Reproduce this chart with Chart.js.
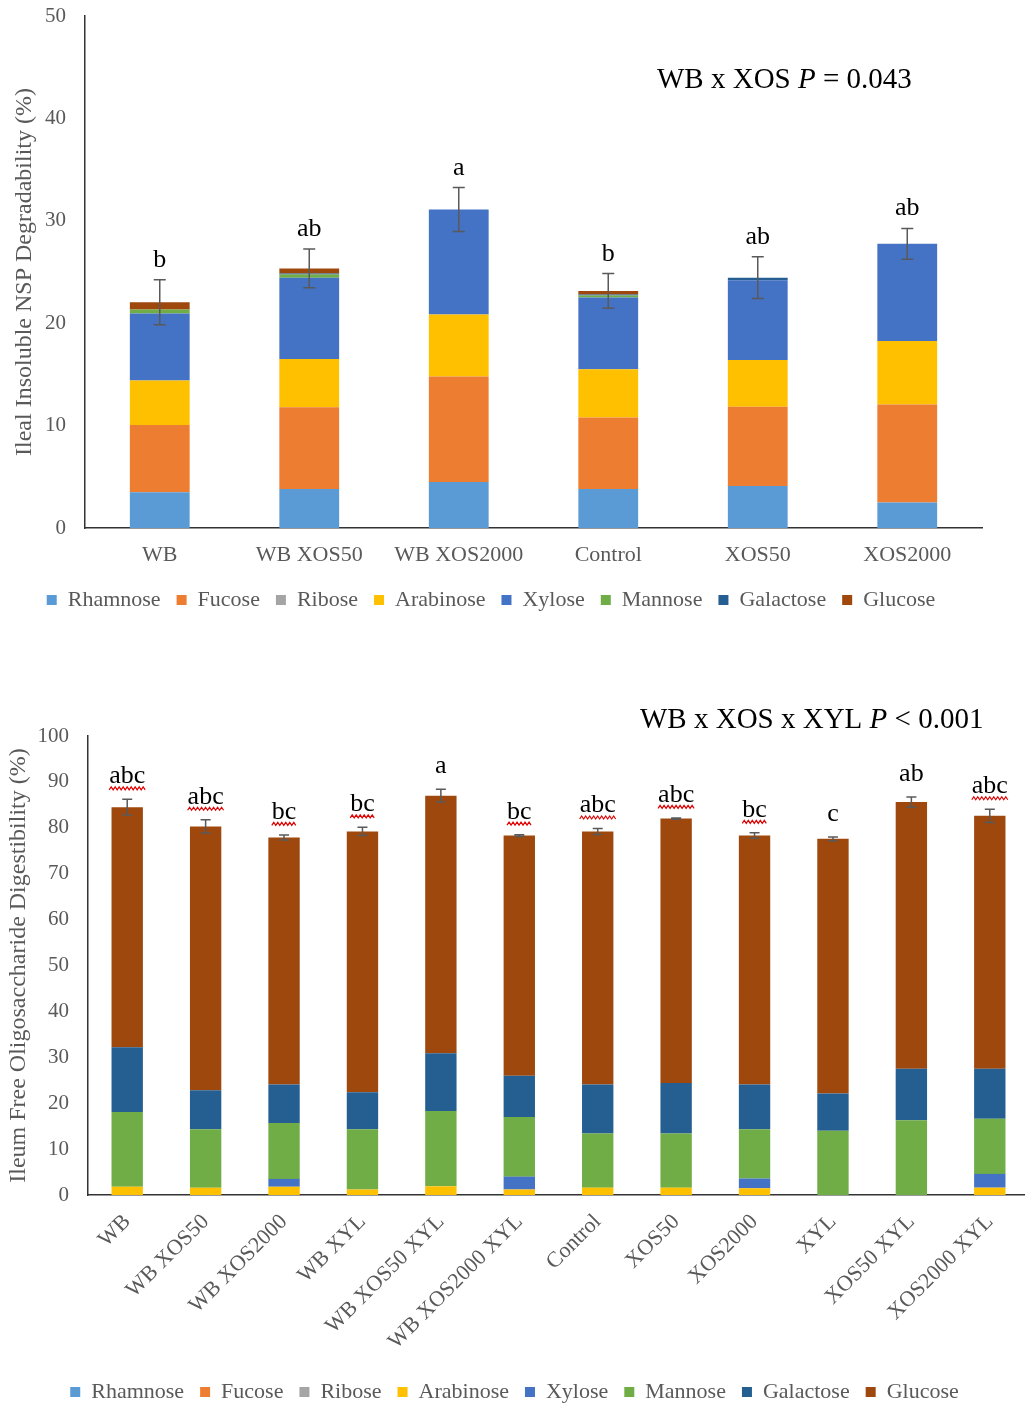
<!DOCTYPE html>
<html>
<head>
<meta charset="utf-8">
<script src="https://cdn.jsdelivr.net/npm/chart.js@4.4.0/dist/chart.umd.min.js"></script>
<style>
  html, body { margin: 0; background: #fff; overflow: hidden; }
  body { width: 1025px; height: 1404px; position: relative; }
  .box { position: absolute; left: 0; }
  #top { top: 0; width: 1025px; height: 624px; }
  #bottom { top: 690px; width: 1030px; height: 725px; }
</style>
</head>
<body>
<div class="box" id="top"><canvas id="nsp"></canvas></div>
<div class="box" id="bottom"><canvas id="fos"></canvas></div>
<script>
// sugars and their colours (Office palette)
const sugars = ['Rhamnose', 'Fucose', 'Ribose', 'Arabinose', 'Xylose', 'Mannose', 'Galactose', 'Glucose'];
const sugarColors = ['#5B9BD5', '#ED7D31', '#A5A5A5', '#FFC000', '#4472C4', '#70AD47', '#255E91', '#9E480E'];

// top chart: ileal insoluble NSP degradability
const nspGroups = ['WB', 'WB XOS50', 'WB XOS2000', 'Control', 'XOS50', 'XOS2000'];
const nspRhamnose  = [3.5, 3.8, 4.5, 3.8, 4.1, 2.5];
const nspFucose    = [6.55, 8.0, 10.3, 7.0, 7.75, 9.55];
const nspRibose    = [0, 0, 0, 0, 0, 0];
const nspArabinose = [4.35, 4.7, 6.05, 4.7, 4.55, 6.2];
const nspXylose    = [6.55, 7.95, 10.25, 7.0, 7.8, 9.5];
const nspMannose   = [0.4, 0.3, 0, 0.2, 0, 0];
const nspGalactose = [0, 0.1, 0, 0.1, 0.25, 0];
const nspGlucose   = [0.7, 0.5, 0, 0.35, 0, 0];
const nspErrors    = [2.2, 1.9, 2.15, 1.7, 2.05, 1.5];
const nspLetters   = ['b', 'ab', 'a', 'b', 'ab', 'ab'];
const nspTitle     = [['WB x XOS ', false], ['P', true], [' = 0.043', false]];

// bottom chart: ileum free oligosaccharide digestibility
const fosGroups = ['WB', 'WB XOS50', 'WB XOS2000', 'WB XYL', 'WB XOS50 XYL', 'WB XOS2000 XYL',
                   'Control', 'XOS50', 'XOS2000', 'XYL', 'XOS50 XYL', 'XOS2000 XYL'];
const fosRhamnose  = [0, 0, 0, 0, 0, 0, 0, 0, 0, 0, 0, 0];
const fosFucose    = [0, 0, 0, 0, 0, 0, 0, 0, 0, 0, 0, 0];
const fosRibose    = [0, 0, 0, 0, 0, 0, 0, 0, 0, 0, 0, 0];
const fosArabinose = [1.8, 1.6, 1.8, 1.2, 1.9, 1.2, 1.6, 1.6, 1.45, 0, 0, 1.6];
const fosXylose    = [0, 0, 1.7, 0, 0, 2.8, 0, 0, 2.15, 0, 0, 3.0];
const fosMannose   = [16.3, 12.7, 12.2, 13.1, 16.4, 13.0, 11.8, 11.8, 10.7, 14.0, 16.3, 12.0];
const fosGalactose = [14.1, 8.5, 8.4, 8.1, 12.6, 9.0, 10.7, 11.0, 9.8, 8.1, 11.2, 10.9];
const fosGlucose   = [52.3, 57.5, 53.8, 56.8, 56.1, 52.3, 55.1, 57.6, 54.2, 55.5, 58.1, 55.1];
const fosErrors    = [1.7, 1.45, 0.55, 0.9, 1.4, 0.2, 0.65, 0.15, 0.6, 0.4, 1.1, 1.45];
const fosLetters   = ['abc', 'abc', 'bc', 'bc', 'a', 'bc', 'abc', 'abc', 'bc', 'c', 'ab', 'abc'];
const fosSquiggle  = [true, true, true, true, false, true, true, true, true, false, false, true];
const fosTitle     = [['WB x XOS x XYL ', false], ['P', true], [' < 0.001', false]];

const serif = "'Liberation Serif', 'Times New Roman', serif";
Chart.defaults.font.family = serif;
Chart.defaults.color = '#595959';

function makeDatasets(series) {
  return series.map((vals, i) => ({
    label: sugars[i],
    data: vals,
    backgroundColor: sugarColors[i],
    borderWidth: 0,
    categoryPercentage: 1,
    barPercentage: 0.4
  }));
}

function totalsOf(series) {
  return series[0].map((_, i) => series.reduce((s, arr) => s + arr[i], 0));
}

// error bars, significance letters and the interaction note
const annotate = {
  id: 'annotate',
  afterDatasetsDraw(chart, args, o) {
    const ctx = chart.ctx;
    const xs = chart.scales.x, ys = chart.scales.y;
    ctx.save();
    o.totals.forEach((t, i) => {
      const px = xs.getPixelForValue(i);
      const hi = ys.getPixelForValue(t + o.errors[i]);
      const lo = ys.getPixelForValue(t - o.errors[i]);
      ctx.strokeStyle = '#595959';
      ctx.lineWidth = 1.5;
      ctx.beginPath();
      ctx.moveTo(px, hi); ctx.lineTo(px, lo);
      ctx.moveTo(px - o.cap, hi); ctx.lineTo(px + o.cap, hi);
      ctx.moveTo(px - o.cap, lo); ctx.lineTo(px + o.cap, lo);
      ctx.stroke();

      ctx.font = '26px ' + serif;
      ctx.fillStyle = '#000';
      ctx.textAlign = 'center';
      ctx.textBaseline = 'alphabetic';
      const base = hi - o.gap;
      ctx.fillText(o.letters[i], px, base);
      if (o.squiggle && o.squiggle[i]) {
        const w = ctx.measureText(o.letters[i]).width;
        ctx.strokeStyle = '#e00000';
        ctx.lineWidth = 1.2;
        ctx.beginPath();
        let k = 0;
        for (let sx = px - w / 2; sx <= px + w / 2; sx += 2) {
          const sy = base + 5 + (k % 2 ? -1.5 : 1.5);
          if (k === 0) ctx.moveTo(sx, sy); else ctx.lineTo(sx, sy);
          k++;
        }
        ctx.stroke();
      }
    });

    // interaction note
    let tx = o.noteX;
    ctx.textAlign = 'left';
    ctx.textBaseline = 'middle';
    ctx.fillStyle = '#000';
    o.note.forEach(([txt, italic]) => {
      ctx.font = (italic ? 'italic ' : '') + '29px ' + serif;
      ctx.fillText(txt, tx, o.noteY);
      tx += ctx.measureText(txt).width;
    });
    ctx.restore();
  }
};

function options(cfg) {
  return {
    responsive: true,
    maintainAspectRatio: false,
    animation: false,
    layout: { padding: cfg.padding },
    plugins: {
      legend: {
        position: 'bottom',
        labels: {
          boxWidth: 10, boxHeight: 10, padding: 16,
          color: '#595959',
          font: { size: 22, family: serif }
        }
      },
      tooltip: { enabled: false },
      annotate: cfg.annotate
    },
    scales: {
      x: {
        stacked: true,
        grid: { display: false, drawTicks: false },
        border: { display: true, color: '#333', width: 1.5 },
        ticks: {
          autoSkip: false,
          minRotation: cfg.rotation, maxRotation: cfg.rotation,
          padding: cfg.xPad,
          color: '#595959',
          font: { size: 22, family: serif }
        },
        afterFit: s => { s.height = cfg.xHeight; }
      },
      y: {
        stacked: true,
        min: 0, max: cfg.yMax,
        grid: { display: false, drawTicks: false },
        border: { display: true, color: '#333', width: 1.5 },
        ticks: {
          stepSize: cfg.yStep,
          padding: 19,
          color: '#595959',
          font: { size: 21, family: serif }
        },
        title: {
          display: true,
          text: cfg.yTitle,
          color: '#595959',
          padding: { top: cfg.titlePad, bottom: 0 },
          font: { size: 24, family: serif }
        },
        afterFit: s => { s.width = cfg.yWidth; s.paddingTop = 0; }
      }
    }
  };
}

const nspSeries = [nspRhamnose, nspFucose, nspRibose, nspArabinose, nspXylose, nspMannose, nspGalactose, nspGlucose];
new Chart(document.getElementById('nsp'), {
  type: 'bar',
  data: { labels: nspGroups, datasets: makeDatasets(nspSeries) },
  options: options({
    padding: { top: 16, right: 43, bottom: 3, left: 0 },
    rotation: 0, xPad: 14, xHeight: 45,
    yMax: 50, yStep: 10, yWidth: 85, titlePad: 10,
    yTitle: 'Ileal Insoluble NSP Degradability (%)',
    annotate: {
      totals: totalsOf(nspSeries), errors: nspErrors, letters: nspLetters,
      cap: 6, gap: 13, note: nspTitle, noteX: 657, noteY: 80
    }
  }),
  plugins: [annotate]
});

const fosSeries = [fosRhamnose, fosFucose, fosRibose, fosArabinose, fosXylose, fosMannose, fosGalactose, fosGlucose];
new Chart(document.getElementById('fos'), {
  type: 'bar',
  data: { labels: fosGroups, datasets: makeDatasets(fosSeries) },
  options: options({
    padding: { top: 46, right: 1, bottom: 2, left: 0 },
    rotation: 45, xPad: 14, xHeight: 170,
    yMax: 100, yStep: 10, yWidth: 88, titlePad: 4,
    yTitle: 'Ileum Free Oligosaccharide Digestibility (%)',
    annotate: {
      totals: totalsOf(fosSeries), errors: fosErrors, letters: fosLetters, squiggle: fosSquiggle,
      cap: 5, gap: 16, note: fosTitle, noteX: 640, noteY: 30
    }
  }),
  plugins: [annotate]
});
</script>
</body>
</html>
